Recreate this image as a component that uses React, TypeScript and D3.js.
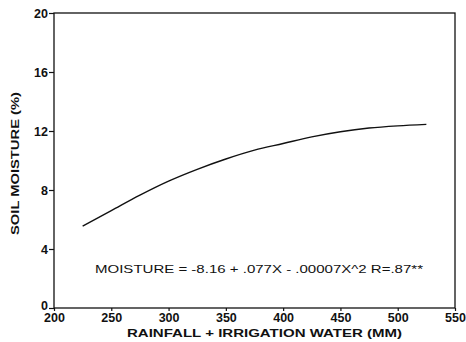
import React, { useEffect, useRef } from 'react';
import * as d3 from 'd3';

// values
const waterMM = [225, 250, 275, 300, 325, 350, 375, 400, 425, 450, 475, 500, 525];
const moisture = [5.55, 6.6, 7.65, 8.6, 9.4, 10.1, 10.7, 11.15, 11.6, 11.95, 12.2, 12.35, 12.45];

const xTicks = [200, 250, 300, 350, 400, 450, 500, 550];
const yTicks = [0, 4, 8, 12, 16, 20];

const equation = 'MOISTURE = -8.16 + .077X - .00007X^2   R=.87**';

const App: React.FC = () => {
  const svgRef = useRef<SVGSVGElement>(null);
  const width = 466;
  const height = 342;

  useEffect(() => {
    if (!svgRef.current) return;
    const svg = d3.select(svgRef.current);
    svg.selectAll('*').remove();

    const margin = { top: 13, right: 11, bottom: 34, left: 54 };
    const innerWidth = width - margin.left - margin.right;
    const innerHeight = height - margin.top - margin.bottom;
    const font = '"Liberation Sans", Arial, Helvetica, sans-serif';

    const g = svg.append('g').attr('transform', `translate(${margin.left},${margin.top})`);

    const x = d3.scaleLinear().domain([200, 550]).range([0, innerWidth]);
    const y = d3.scaleLinear().domain([0, 20]).range([innerHeight, 0]);

    // frame
    g.append('rect')
      .attr('width', innerWidth)
      .attr('height', innerHeight)
      .attr('fill', 'none')
      .attr('stroke', '#111')
      .attr('stroke-width', 1.3);

    const xAxis = g.append('g')
      .attr('transform', `translate(0,${innerHeight})`)
      .call(d3.axisBottom(x).tickValues(xTicks).tickSize(3).tickPadding(2).tickFormat(d => `${d}`));
    const yAxis = g.append('g')
      .call(d3.axisLeft(y).tickValues(yTicks).tickSize(5).tickPadding(1).tickFormat(d => `${d}`));

    [xAxis, yAxis].forEach(a => {
      a.select('.domain').remove();
      a.selectAll('line').attr('stroke', '#111').attr('stroke-width', 1.2);
      a.selectAll('text')
        .attr('fill', '#111')
        .style('font-family', font)
        .style('font-size', '12.5px')
        .style('font-weight', '700');
    });
    // the zero label sits a little above the corner, as in the source
    yAxis.selectAll<SVGTextElement, number>('text')
      .filter(d => d === 0)
      .attr('dy', '0.1em');

    const line = d3.line<number>()
      .x((_, i) => x(waterMM[i]))
      .y(d => y(d))
      .curve(d3.curveMonotoneX);

    g.append('path')
      .datum(moisture)
      .attr('d', line)
      .attr('fill', 'none')
      .attr('stroke', '#111')
      .attr('stroke-width', 1.4);

    // equation
    svg.append('text')
      .attr('x', 95)
      .attr('y', 273)
      .attr('textLength', 328)
      .attr('lengthAdjust', 'spacingAndGlyphs')
      .style('font-family', font)
      .style('font-size', '11.5px')
      .attr('fill', '#111')
      .text(equation);

    // axis titles
    svg.append('text')
      .attr('x', 127)
      .attr('y', 337)
      .attr('textLength', 275)
      .attr('lengthAdjust', 'spacingAndGlyphs')
      .style('font-family', font)
      .style('font-weight', '700')
      .style('font-size', '11.5px')
      .attr('fill', '#111')
      .text('RAINFALL + IRRIGATION WATER (MM)');

    svg.append('text')
      .attr('transform', `translate(19,235) rotate(-90)`)
      .attr('textLength', 143)
      .attr('lengthAdjust', 'spacingAndGlyphs')
      .style('font-family', font)
      .style('font-weight', '700')
      .style('font-size', '11.5px')
      .attr('fill', '#111')
      .text('SOIL MOISTURE (%)');
  }, []);

  return (
    <svg
      ref={svgRef}
      width={width}
      height={height}
      style={{ position: 'absolute', left: 0, top: 0, background: '#fff' }}
    />
  );
};

export default App;
